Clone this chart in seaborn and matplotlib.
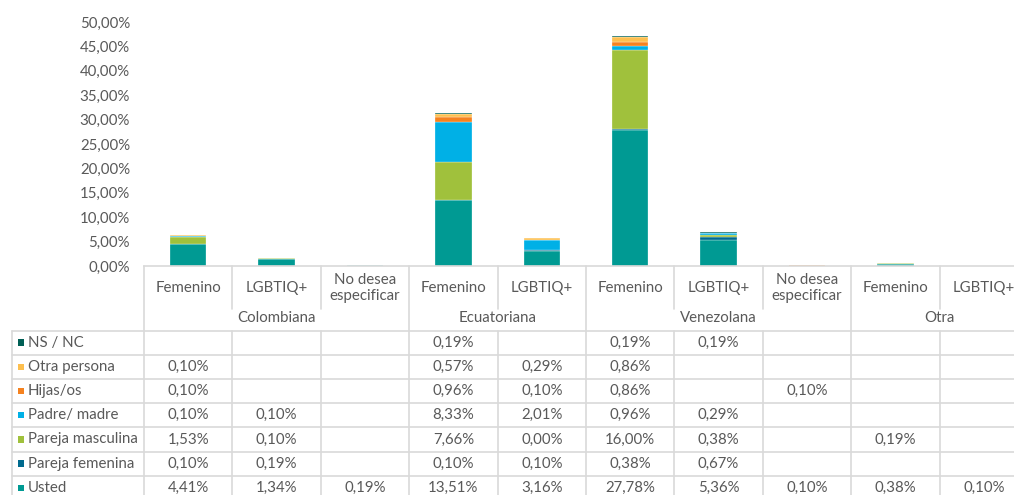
import matplotlib
matplotlib.use("Agg")
import matplotlib.pyplot as plt
import matplotlib.transforms as mtrans
from matplotlib.lines import Line2D
from matplotlib.patches import Rectangle
import seaborn as sns
import pandas as pd

sns.set_theme(style="white")
plt.rcParams['font.family'] = ['Lato', 'DejaVu Sans']

# --- datos ---
grupos = ['Colombiana', 'Ecuatoriana', 'Venezolana', 'Otra']
grupo_tam = [3, 2, 3, 2]
subcats = ['Femenino', 'LGBTIQ+', 'No desea\nespecificar',
           'Femenino', 'LGBTIQ+',
           'Femenino', 'LGBTIQ+', 'No desea\nespecificar',
           'Femenino', 'LGBTIQ+']

series = ['NS / NC', 'Otra persona', 'Hijas/os', 'Padre/ madre',
          'Pareja masculina', 'Pareja femenina', 'Usted']
ns_nc = [None, None, None, 0.19, None, 0.19, 0.19, None, None, None]
otra_persona = [0.10, None, None, 0.57, 0.29, 0.86, None, None, None, None]
hijas_os = [0.10, None, None, 0.96, 0.10, 0.86, None, 0.10, None, None]
padre_madre = [0.10, 0.10, None, 8.33, 2.01, 0.96, 0.29, None, None, None]
pareja_masc = [1.53, 0.10, None, 7.66, 0.00, 16.00, 0.38, None, 0.19, None]
pareja_fem = [0.10, 0.19, None, 0.10, 0.10, 0.38, 0.67, None, None, None]
usted = [4.41, 1.34, 0.19, 13.51, 3.16, 27.78, 5.36, 0.10, 0.38, 0.10]
valores = [ns_nc, otra_persona, hijas_os, padre_madre, pareja_masc, pareja_fem, usted]

colores = ['#005F55', '#FDBF4F', '#F5821F', '#00B0E6', '#A0C13C', '#006A8E', '#009A93']

gris = '#595959'
linea = '#D9D9D9'
fs = 10.8

filas = []
for nombre, vals in zip(series, valores):
    for i, v in enumerate(vals):
        if v is not None:
            filas.append({'x': i, 'serie': nombre, 'valor': v})
df = pd.DataFrame(filas)

W, H = 1014, 495
fig = plt.figure(figsize=(W / 100, H / 100), dpi=100)
ax = fig.add_axes([144 / W, 1 - 266 / H, 884 / W, 244 / H])

def fy(p):
    return 1 - p / H

def fx(p):
    return p / W

sns.histplot(data=df, x='x', weights='valor', hue='serie', hue_order=series,
             multiple='stack', discrete=True, shrink=0.41,
             palette=dict(zip(series, colores)), alpha=1,
             edgecolor='white', linewidth=0.2, legend=False, ax=ax)

ax.set_xlim(-0.5, 9.5)
ax.set_ylim(0, 50)
ax.set_yticks(range(0, 51, 5))
ax.set_yticklabels([f'{t},00%' for t in range(0, 51, 5)])
ax.set_xticks([])
ax.set_xlabel('')
ax.set_ylabel('')
ax.tick_params(axis='y', length=0, pad=10, labelsize=fs, colors=gris)
for s in ['left', 'right', 'top']:
    ax.spines[s].set_visible(False)
ax.spines['bottom'].set_color(linea)
ax.spines['bottom'].set_linewidth(1.2)

trans = mtrans.blended_transform_factory(ax.transData, fig.transFigure)

# cabecera de subcategorías
for i, s in enumerate(subcats):
    ax.text(i, fy(288), s, transform=trans, ha='center', va='center',
            fontsize=fs, color=gris, linespacing=1.25, clip_on=False)

# cabecera de grupos
ini = 0
for g, n in zip(grupos, grupo_tam):
    ax.text(ini + (n - 1) / 2, fy(318.5), g, transform=trans, ha='center',
            va='center', fontsize=fs, color=gris, clip_on=False)
    ini += n

# filas de la tabla
fila_lineas = [330.5, 354.7, 378.9, 403.1, 427.3, 451.5, 475.7]
alto = 24.2
for nombre, vals, col, yl in zip(series, valores, colores, fila_lineas):
    yc = yl + alto / 2
    fig.add_artist(Rectangle((fx(17.5), fy(yc + 3.2)), 6.5 / W, 6.5 / H,
                             transform=fig.transFigure, color=col, lw=0))
    fig.text(fx(27.5), fy(yc), nombre, ha='left', va='center',
             fontsize=fs, color=gris)
    for i, v in enumerate(vals):
        if v is not None:
            ax.text(i, fy(yc), f'{v:.2f}%'.replace('.', ','), transform=trans,
                    ha='center', va='center', fontsize=fs, color=gris,
                    clip_on=False)

# líneas de la tabla
for yl in fila_lineas:
    fig.add_artist(Line2D([fx(12), 1], [fy(yl), fy(yl)], transform=fig.transFigure,
                          color=linea, lw=1.2))
fig.add_artist(Line2D([fx(12), fx(12)], [fy(330.5), 0], transform=fig.transFigure,
                      color=linea, lw=1.2))
limites_grupo = [-0.5, 2.5, 4.5, 7.5, 9.5]
for b in range(11):
    xb = b - 0.5
    if xb in limites_grupo:
        fig.add_artist(Line2D([xb, xb], [fy(266), 0], transform=trans,
                              color=linea, lw=1.2))
    else:
        fig.add_artist(Line2D([xb, xb], [fy(266), fy(309)], transform=trans,
                              color=linea, lw=1.2))
        fig.add_artist(Line2D([xb, xb], [fy(330.5), 0], transform=trans,
                              color=linea, lw=1.2))

fig.savefig('out.png', dpi=100)
